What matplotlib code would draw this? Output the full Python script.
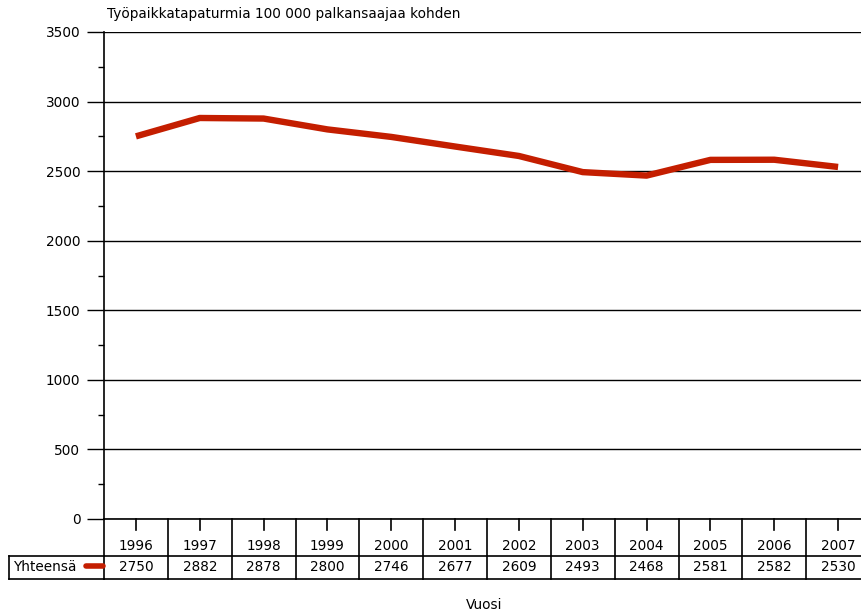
import matplotlib.pyplot as plt
from matplotlib.lines import Line2D
import matplotlib.transforms as mtransforms

years = ['1996', '1997', '1998', '1999', '2000', '2001', '2002',
         '2003', '2004', '2005', '2006', '2007']
values = [2750, 2882, 2878, 2800, 2746, 2677, 2609, 2493, 2468, 2581, 2582, 2530]
series_name = 'Yhteensä'
line_color = '#c41e00'
fs = 9.8

W, H = 861, 614
fig = plt.figure(figsize=(W / 100, H / 100), dpi=100)
fig.patch.set_facecolor('white')

# axes spans 104..870 px (last column runs off the right edge like the original)
ax = fig.add_axes([104 / W, (H - 519) / H, 766 / W, (519 - 32) / H])
x = list(range(len(years)))
ax.plot(x, values, color=line_color, lw=4.6, solid_capstyle='butt', solid_joinstyle='round')

ax.set_xlim(-0.5, len(years) - 0.5)
ax.set_ylim(0, 3500)
ax.set_yticks(range(0, 3501, 500))
ax.set_yticks(range(250, 3500, 500), minor=True)
ax.tick_params(axis='y', which='major', length=12, width=1, labelsize=fs, pad=5)
ax.tick_params(axis='y', which='minor', length=4, width=1)
ax.set_xticks(x)
ax.tick_params(axis='x', length=0, labelbottom=False)
for s in ['top', 'right', 'bottom']:
    ax.spines[s].set_visible(False)
ax.spines['left'].set_linewidth(1.2)
ax.grid(axis='y', color='black', lw=1)
ax.set_axisbelow(True)

ax.text(0.004, 1.022, 'Työpaikkatapaturmia 100 000 palkansaajaa kohden',
        transform=ax.transAxes, fontsize=fs, ha='left', va='bottom')

# data table below the plot
tr = mtransforms.blended_transform_factory(ax.transData, ax.transAxes)
ax_h = 519 - 32
y0 = 0.0
y1 = -(555.5 - 519) / ax_h
y2 = -(578.5 - 519) / ax_h
kw = dict(color='black', lw=1.2, transform=tr, clip_on=False)
xs = [-0.5 + i for i in range(len(years) + 1)]
for xv in xs:
    ax.add_line(Line2D([xv, xv], [y0, y2], **kw))
ax.add_line(Line2D([-0.5, len(years) - 0.5], [y0, y0], **kw))
ax.add_line(Line2D([-0.5, len(years) - 0.5], [y1, y1], **kw))
ax.add_line(Line2D([-0.5, len(years) - 0.5], [y2, y2], **kw))
for i, (yr, v) in enumerate(zip(years, values)):
    ax.add_line(Line2D([i, i], [y0, -(530 - 519) / ax_h], **kw))
    ax.text(i, (y0 + y1) / 2 - 0.018, yr, transform=tr, ha='center', va='center', fontsize=fs)
    ax.text(i, (y1 + y2) / 2, str(v), transform=tr, ha='center', va='center', fontsize=fs)

# row label cell with legend swatch
fig.add_artist(Line2D([9 / W, 104 / W], [(H - 555.5) / H] * 2, color='black', lw=1.2))
fig.add_artist(Line2D([9 / W, 104 / W], [(H - 578.5) / H] * 2, color='black', lw=1.2))
fig.add_artist(Line2D([9 / W, 9 / W], [(H - 555.5) / H, (H - 578.5) / H], color='black', lw=1.2))
fig.text(13 / W, (H - 567) / H, series_name, fontsize=fs, ha='left', va='center')
fig.add_artist(Line2D([86 / W, 103 / W], [(H - 566) / H] * 2, color=line_color, lw=4,
                      solid_capstyle='round'))

fig.text(484 / W, (H - 605) / H, 'Vuosi', fontsize=fs, ha='center', va='center')

fig.savefig('out.png', dpi=100)
